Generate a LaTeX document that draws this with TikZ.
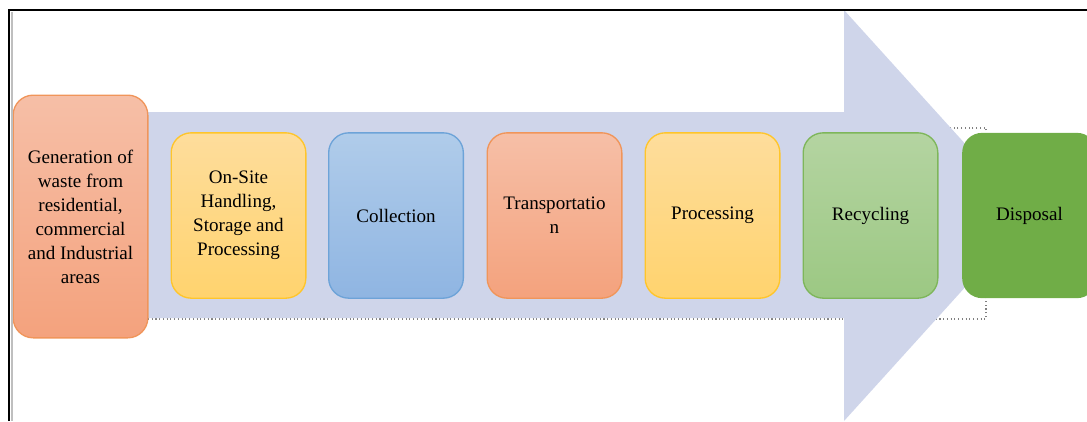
\documentclass[tikz,border=0pt]{standalone}
\usepackage{fontspec}
\setmainfont{Liberation Serif}
\usepackage{tikz}

\definecolor{arrowfill}{HTML}{CFD5EA}
\definecolor{peachtop}{HTML}{F6BFA7}
\definecolor{peachbot}{HTML}{F4A27D}
\definecolor{peachline}{HTML}{F0955A}
\definecolor{suntop}{HTML}{FEDD9C}
\definecolor{sunbot}{HTML}{FFD36E}
\definecolor{sunline}{HTML}{FFC52A}
\definecolor{skytop}{HTML}{B0CCEA}
\definecolor{skybot}{HTML}{8FB5E2}
\definecolor{skyline}{HTML}{6DA3D8}
\definecolor{leaftop}{HTML}{B4D4A1}
\definecolor{leafbot}{HTML}{9CC883}
\definecolor{leafline}{HTML}{7EB65A}
\definecolor{moss}{HTML}{70AD47}

\begin{document}
\begin{tikzpicture}[x = 0.75pt, y = -0.75pt, line width = 1pt,
                        box/.style = {rounded corners = 15pt, minimum width = 101pt, minimum height = 124pt,
                                      align = center, inner sep = 0pt,
                                      font = \fontsize{14.3}{18}\selectfont},
                        peach/.style = {box, draw = peachline, top color = peachtop, bottom color = peachbot},
                        sun/.style = {box, draw = sunline, top color = suntop, bottom color = sunbot},
                        sky/.style = {box, draw = skyline, top color = skytop, bottom color = skybot},
                        leaf/.style = {box, draw = leafline, top color = leaftop, bottom color = leafbot},
                        mossbox/.style = {box, fill = moss}]
      \useasboundingbox (0, 0) rectangle (1087, 421);

      % dotted frame and big arrow
      \draw [dotted, gray, line width = 0.8pt] (148, 319) -- (986, 319) -- (986, 128) -- (945, 128);
      \fill [arrowfill] (80, 112) -- (844, 112) -- (844, 10) -- (1030, 215.5)
                        -- (844, 421) -- (844, 318) -- (80, 318) -- cycle;

      \node [peach, minimum height = 182pt] (b1) at (80.5, 216.5)
            {Generation of\\waste from\\residential,\\commercial\\and Industrial\\areas};
      \node [sun] (b2) at (238.5, 215.5) {On-Site\\Handling,\\Storage and\\Processing};
      \node [sky] (b3) at (396, 215.5) {Collection};
      \node [peach] (b4) at (554.5, 215.5) {Transportatio\\n};
      \node [sun] (b5) at (712.5, 215.5) {Processing};
      \node [leaf] (b6) at (870.5, 215.5) {Recycling};
      \node [mossbox] (b7) at (1029.5, 215.5) {Disposal};

      % page border
      \draw [gray!50, line width = 1pt] (12, 12) -- (12, 421);
      \draw [line width = 1.5pt] (9, 421) -- (9, 10) -- (1087, 10);

      \end{tikzpicture}
\end{document}
